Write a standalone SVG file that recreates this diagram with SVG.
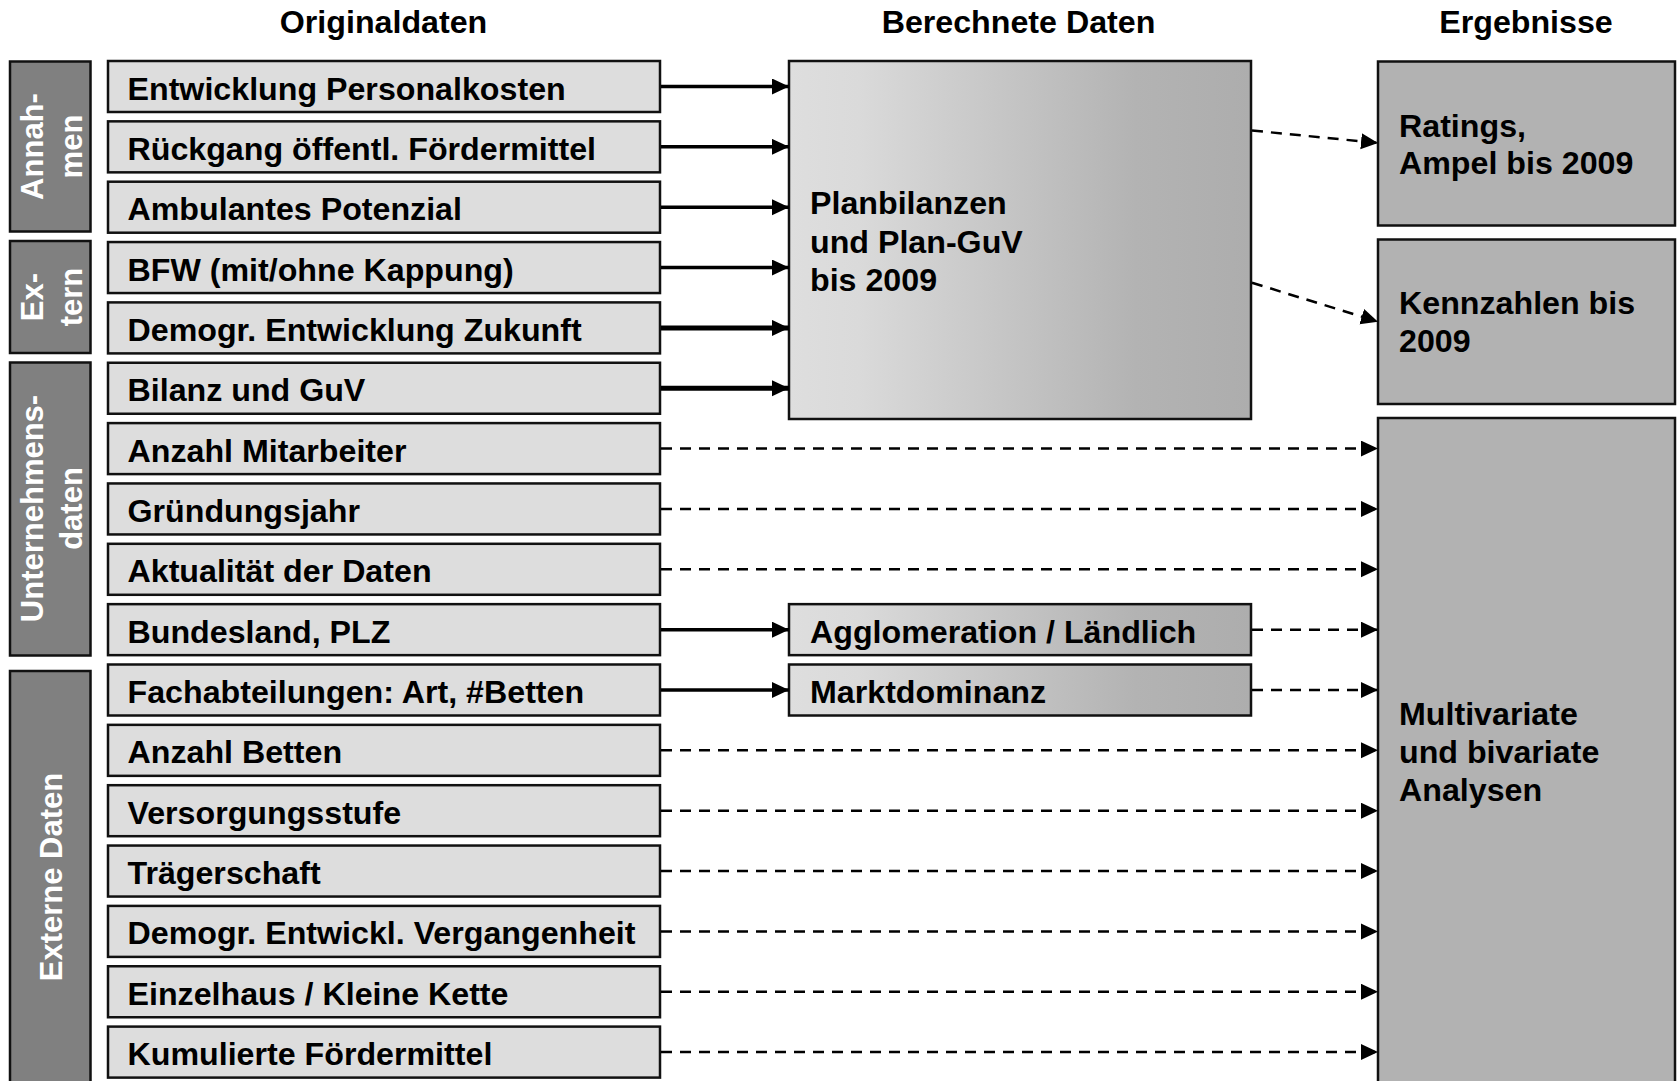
<svg xmlns="http://www.w3.org/2000/svg" width="1677" height="1081" viewBox="0 0 1677 1081">
<defs>
<linearGradient id="grad" x1="0" y1="0" x2="1" y2="0">
<stop offset="0" stop-color="#DEDEDE"/>
<stop offset="0.15" stop-color="#DADADA"/>
<stop offset="0.75" stop-color="#B3B3B3"/>
<stop offset="1" stop-color="#ADADAD"/>
</linearGradient>
<marker id="ah" markerUnits="userSpaceOnUse" markerWidth="18" markerHeight="17" refX="17" refY="8" orient="auto">
<path d="M0,0 L17,8 L0,16 z" fill="#000"/>
</marker>
</defs>
<style>
text{font-family:"Liberation Sans",Arial,sans-serif;font-weight:bold;fill:#000}
.h{font-size:32.2px;text-anchor:middle}
.t{font-size:32.2px}
.cat{fill:#808080;stroke:#111;stroke-width:2.5}
.catt{font-size:31px;fill:#fff;text-anchor:middle}
.data{fill:#DDDDDD;stroke:#111;stroke-width:2.5}
.calc{fill:url(#grad);stroke:#111;stroke-width:2.5}
.res{fill:#B2B2B2;stroke:#111;stroke-width:2.5}
.s{stroke:#000;stroke-width:3.5;fill:none;marker-end:url(#ah)}
.s2{stroke:#000;stroke-width:5;fill:none;marker-end:url(#ah)}
.d{stroke:#000;stroke-width:2.5;fill:none;stroke-dasharray:11 8;marker-end:url(#ah)}
</style>
<g id="headers">
<text class="h" x="383.5" y="33">Originaldaten</text>
<text class="h" x="1018.5" y="33">Berechnete Daten</text>
<text class="h" x="1526" y="33">Ergebnisse</text>
</g>
<g id="cat-annahmen">
<rect class="cat" x="10" y="61.5" width="80.5" height="170"/>
<text class="catt" transform="translate(43,146.5) rotate(-90)"><tspan x="0" y="0">Annah-</tspan><tspan x="0" y="38.5">men</tspan></text>
</g>
<g id="cat-extern">
<rect class="cat" x="10" y="241" width="80.5" height="112"/>
<text class="catt" transform="translate(43,297) rotate(-90)"><tspan x="0" y="0">Ex-</tspan><tspan x="0" y="38.5">tern</tspan></text>
</g>
<g id="cat-unternehmen">
<rect class="cat" x="10" y="362.5" width="80.5" height="293"/>
<text class="catt" transform="translate(43,508.5) rotate(-90)"><tspan x="0" y="0">Unternehmens-</tspan><tspan x="0" y="38.5">daten</tspan></text>
</g>
<g id="cat-externe">
<rect class="cat" x="10" y="671" width="80.5" height="420"/>
<text class="catt" transform="translate(62,877) rotate(-90)">Externe Daten</text>
</g>
<g id="n0"><rect class="data" x="108" y="61" width="552" height="51"/><text class="t" x="127.5" y="99.5">Entwicklung Personalkosten</text></g>
<g id="n1"><rect class="data" x="108" y="121.35" width="552" height="51"/><text class="t" x="127.5" y="159.85">Rückgang öffentl. Fördermittel</text></g>
<g id="n2"><rect class="data" x="108" y="181.7" width="552" height="51"/><text class="t" x="127.5" y="220.2">Ambulantes Potenzial</text></g>
<g id="n3"><rect class="data" x="108" y="242.05" width="552" height="51"/><text class="t" x="127.5" y="280.55">BFW (mit/ohne Kappung)</text></g>
<g id="n4"><rect class="data" x="108" y="302.4" width="552" height="51"/><text class="t" x="127.5" y="340.9">Demogr. Entwicklung Zukunft</text></g>
<g id="n5"><rect class="data" x="108" y="362.75" width="552" height="51"/><text class="t" x="127.5" y="401.25">Bilanz und GuV</text></g>
<g id="n6"><rect class="data" x="108" y="423.1" width="552" height="51"/><text class="t" x="127.5" y="461.6">Anzahl Mitarbeiter</text></g>
<g id="n7"><rect class="data" x="108" y="483.45" width="552" height="51"/><text class="t" x="127.5" y="521.95">Gründungsjahr</text></g>
<g id="n8"><rect class="data" x="108" y="543.8" width="552" height="51"/><text class="t" x="127.5" y="582.3">Aktualität der Daten</text></g>
<g id="n9"><rect class="data" x="108" y="604.15" width="552" height="51"/><text class="t" x="127.5" y="642.65">Bundesland, PLZ</text></g>
<g id="n10"><rect class="data" x="108" y="664.5" width="552" height="51"/><text class="t" x="127.5" y="703">Fachabteilungen: Art, #Betten</text></g>
<g id="n11"><rect class="data" x="108" y="724.85" width="552" height="51"/><text class="t" x="127.5" y="763.35">Anzahl Betten</text></g>
<g id="n12"><rect class="data" x="108" y="785.2" width="552" height="51"/><text class="t" x="127.5" y="823.7">Versorgungsstufe</text></g>
<g id="n13"><rect class="data" x="108" y="845.55" width="552" height="51"/><text class="t" x="127.5" y="884.05">Trägerschaft</text></g>
<g id="n14"><rect class="data" x="108" y="905.9" width="552" height="51"/><text class="t" x="127.5" y="944.4">Demogr. Entwickl. Vergangenheit</text></g>
<g id="n15"><rect class="data" x="108" y="966.25" width="552" height="51"/><text class="t" x="127.5" y="1004.75">Einzelhaus / Kleine Kette</text></g>
<g id="n16"><rect class="data" x="108" y="1026.6" width="552" height="51"/><text class="t" x="127.5" y="1065.1">Kumulierte Fördermittel</text></g>
<g id="plan"><rect class="calc" x="789" y="61" width="462" height="358"/>
<text class="t"><tspan x="810" y="214">Planbilanzen</tspan><tspan x="810" y="252.5">und Plan-GuV</tspan><tspan x="810" y="290.5">bis 2009</tspan></text></g>
<g id="agglo"><rect class="calc" x="789" y="604.15" width="462" height="51"/><text class="t" x="810" y="642.65">Agglomeration / Ländlich</text></g>
<g id="markt"><rect class="calc" x="789" y="664.5" width="462" height="51"/><text class="t" x="810" y="703">Marktdominanz</text></g>
<g id="ratings"><rect class="res" x="1378" y="61.5" width="297" height="164"/>
<text class="t"><tspan x="1399" y="137">Ratings,</tspan><tspan x="1399" y="174">Ampel bis 2009</tspan></text></g>
<g id="kennzahlen"><rect class="res" x="1378" y="239.5" width="297" height="164.5"/>
<text class="t"><tspan x="1399" y="314">Kennzahlen bis</tspan><tspan x="1399" y="352">2009</tspan></text></g>
<g id="multi"><rect class="res" x="1378" y="418" width="297" height="680"/>
<text class="t"><tspan x="1399" y="725">Multivariate</tspan><tspan x="1399" y="763">und bivariate</tspan><tspan x="1399" y="801">Analysen</tspan></text></g>
<g id="connectors">
<line class="s" x1="661" y1="86.5" x2="789" y2="86.5"/>
<line class="s" x1="661" y1="146.85" x2="789" y2="146.85"/>
<line class="s" x1="661" y1="207.2" x2="789" y2="207.2"/>
<line class="s" x1="661" y1="267.55" x2="789" y2="267.55"/>
<line class="s2" x1="661" y1="327.9" x2="789" y2="327.9"/>
<line class="s2" x1="661" y1="388.25" x2="789" y2="388.25"/>
<line class="d" x1="661" y1="448.6" x2="1378" y2="448.6"/>
<line class="d" x1="661" y1="508.95" x2="1378" y2="508.95"/>
<line class="d" x1="661" y1="569.3" x2="1378" y2="569.3"/>
<line class="s" x1="661" y1="629.65" x2="789" y2="629.65"/>
<line class="s" x1="661" y1="690" x2="789" y2="690"/>
<line class="d" x1="1252" y1="629.65" x2="1378" y2="629.65"/>
<line class="d" x1="1252" y1="690" x2="1378" y2="690"/>
<line class="d" x1="661" y1="750.35" x2="1378" y2="750.35"/>
<line class="d" x1="661" y1="810.7" x2="1378" y2="810.7"/>
<line class="d" x1="661" y1="871.05" x2="1378" y2="871.05"/>
<line class="d" x1="661" y1="931.4" x2="1378" y2="931.4"/>
<line class="d" x1="661" y1="991.75" x2="1378" y2="991.75"/>
<line class="d" x1="661" y1="1052.1" x2="1378" y2="1052.1"/>
<line class="d" x1="1252" y1="130.5" x2="1378" y2="143"/>
<line class="d" x1="1252" y1="282.7" x2="1378" y2="321.7"/>
</g>
</svg>
